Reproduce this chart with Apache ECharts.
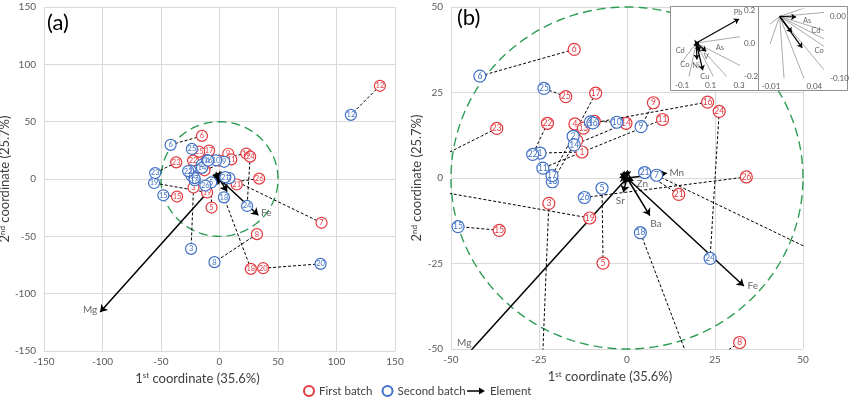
<!DOCTYPE html>
<html><head><meta charset="utf-8">
<script src="https://cdn.jsdelivr.net/npm/echarts@6/dist/echarts.min.js"></script>
<style>html,body{margin:0;padding:0;background:#fff}#c{width:850px;height:398px}</style>
</head><body><div id="c"></div>
<script>
// ---------- data ----------
const sampleIds = [1,2,3,4,5,6,7,8,9,10,11,12,13,14,15,16,17,18,19,20,21,22,23,24,25,26];
const firstX  = [-12.8,-14.3,-22.2,-14.8,-6.8,-15.0,87.2,32.0,7.5,-9.3,10.1,137.1,-12.4,-0.3,-36.3,22.9,-8.9,26.8,-10.6,37.3,14.7,-22.6,-37.0,26.2,-17.4,33.9];
const firstY  = [7.6,11.0,-7.4,15.8,-24.9,37.6,-38.2,-48.1,22.0,16.6,17.1,81.3,14.6,16.0,-15.3,22.2,24.8,-78.4,-11.7,-77.8,-4.8,16.0,14.5,19.5,23.8,0.3];
const secondX = [-24.7,-15.3,-24.3,-10.4,-7.1,-41.8,8.4,-4.3,4.0,-2.9,-23.9,112.3,-21.2,-15.0,-48.0,-9.7,-21.3,3.8,-55.9,86.4,5.0,-26.8,-55.0,23.6,-23.6,-12.1];
const secondY = [7.3,12.2,-60.9,16.4,-3.0,29.8,0.8,-72.5,15.0,16.3,2.9,55.9,-1.1,9.7,-14.2,16.1,0.7,-16.0,-3.5,-74.0,1.6,6.9,5.2,-23.5,26.2,-5.7];

const elementNames = ['Mg','Fe','Mn','Zn','Sr','Ba','Pb','V','Ni','Cu','As','Cd','Co'];
const elementX = [-102.0,33.2,11.3,1.8,-1.05,6.5,0.30,0.07,0.005,0.046,0.019,0.014,0.026];
const elementY = [-116.0,-31.6,1.4,-0.8,-4.2,-11.0,0.145,-0.05,-0.10,-0.165,-0.001,-0.026,-0.051];

const circleRadius = 50;
const ticksA = [-150,-100,-50,0,50,100,150];
const ticksB = [-50,-25,0,25,50];

// ---------- style ----------
const RED = '#e2393f', BLUE = '#4171c6', FONT = 'Lato', TXT = '#404040', TICK = '#595959';

const chart = echarts.init(document.getElementById('c'));

function circleRender(params, api) {
  const pts = [];
  for (let i = 0; i <= 240; i++) {
    const t = i / 240 * 2 * Math.PI;
    pts.push(api.coord([circleRadius * Math.cos(t), circleRadius * Math.sin(t)]));
  }
  return {type: 'polyline', shape: {points: pts},
    style: {stroke: '#2f9d55', lineWidth: 1.4, lineDash: [9, 5], fill: null}};
}
const pairData = () => sampleIds.map((id, i) => ({coords: [[firstX[i], firstY[i]], [secondX[i], secondY[i]]]}));
const ptData = (xs, ys) => sampleIds.map((id, i) => [xs[i], ys[i], id]);
const idx = n => elementNames.indexOf(n);
const arrowData = names => names.map(n => ({coords: [[0, 0], [elementX[idx(n)], elementY[idx(n)]]]}));
const labelData = cfg => cfg.map(c => {
  const i = idx(c.n);
  let p = [elementX[i], elementY[i]];
  if (c.clipY !== undefined) p = [elementX[i] * c.clipY / elementY[i], c.clipY];
  return {value: p, label: {formatter: c.n, offset: c.off}};
});

function panel(g, symSize, fs, labelCfg) {
  return [
    {type: 'custom', xAxisIndex: g, yAxisIndex: g, renderItem: circleRender, data: [[0, 0]], z: 1, silent: true},
    {type: 'lines', name: 'pairs', coordinateSystem: 'cartesian2d', xAxisIndex: g, yAxisIndex: g, clip: true,
      data: pairData(), symbol: 'none', lineStyle: {color: '#000', width: 1, type: [3, 2], opacity: 1}, z: 2, silent: true},
    {type: 'lines', name: 'Element', coordinateSystem: 'cartesian2d', xAxisIndex: g, yAxisIndex: g, clip: true,
      data: arrowData(elementNames), symbol: ['none', 'arrow'], symbolSize: 7,
      lineStyle: {color: '#000', width: 1.5, opacity: 1}, itemStyle: {color: '#000'}, z: 3, silent: true},
    {type: 'scatter', name: 'First batch', xAxisIndex: g, yAxisIndex: g, data: ptData(firstX, firstY),
      symbol: 'circle', symbolSize: symSize, itemStyle: {color: '#fff', borderColor: RED, borderWidth: 1.2, opacity: 1},
      label: {show: true, position: 'inside', formatter: p => p.value[2], color: RED, fontSize: fs, fontFamily: FONT}, z: 4, silent: true},
    {type: 'scatter', name: 'Second batch', xAxisIndex: g, yAxisIndex: g, data: ptData(secondX, secondY),
      symbol: 'circle', symbolSize: symSize, itemStyle: {color: '#fff', borderColor: BLUE, borderWidth: 1.2, opacity: 1},
      label: {show: true, position: 'inside', formatter: p => p.value[2], color: BLUE, fontSize: fs, fontFamily: FONT}, z: 5, silent: true},
    {type: 'scatter', name: 'elemLabels' + g, xAxisIndex: g, yAxisIndex: g, data: labelData(labelCfg), symbolSize: 0, clip: false,
      label: {show: true, position: 'inside', color: TXT, fontSize: 10, fontFamily: FONT}, z: 6, silent: true}
  ];
}

function inset(g, blackNames, labelCfg) {
  const grayNames = elementNames.filter(n => blackNames.indexOf(n) < 0);
  return [
    {type: 'lines', name: 'gray' + g, coordinateSystem: 'cartesian2d', xAxisIndex: g, yAxisIndex: g, clip: true,
      data: arrowData(grayNames), symbol: 'none', lineStyle: {color: '#aaaaaa', width: 1, opacity: 1}, z: 11, silent: true,
      markLine: {silent: true, symbol: 'none', label: {show: false}, lineStyle: {color: '#cfcfcf', type: 'solid', width: 1},
        data: [{xAxis: 0}, {yAxis: 0}]}},
    {type: 'lines', name: 'blk' + g, coordinateSystem: 'cartesian2d', xAxisIndex: g, yAxisIndex: g, clip: false,
      data: arrowData(blackNames), symbol: ['none', 'arrow'], symbolSize: 5,
      lineStyle: {color: '#000', width: 1.2, opacity: 1}, z: 12, silent: true},
    {type: 'scatter', name: 'ilab' + g, xAxisIndex: g, yAxisIndex: g, data: labelData(labelCfg), symbolSize: 0, clip: false,
      label: {show: true, position: 'inside', color: TXT, fontSize: 7.5, fontFamily: FONT}, z: 13, silent: true}
  ];
}

const baseAxis = {
  axisLine: {show: false, onZero: false}, axisTick: {show: false},
  splitLine: {show: true, lineStyle: {color: '#d9d9d9', width: 1}},
  axisLabel: {fontSize: 10, color: TICK, fontFamily: FONT, margin: 7},
  nameLocation: 'middle'
};
const richName = {
  n: {fontSize: 13, fontFamily: FONT, color: TXT, verticalAlign: 'bottom'},
  s: {fontSize: 8, fontFamily: FONT, color: TXT, verticalAlign: 'bottom', padding: [0, 0, 5, 0]}
};
const xName = '{n|1}{s|st}{n| coordinate (35.6%)}';
const yName = '{n|2}{s|nd}{n| coordinate (25.7%)}';
const insetAxis = (o) => Object.assign({
  axisLine: {show: false, onZero: false}, axisTick: {show: false}, splitLine: {show: false}, z: 11
}, o);
const legendText = {fontFamily: FONT, fontSize: 11.5, color: TXT};

const option = {
  animation: false,
  backgroundColor: '#fff',
  textStyle: {fontFamily: FONT},
  grid: [
    {left: 44, top: 7, width: 351, height: 344, outerBoundsMode: 'none'},
    {left: 451, top: 7, width: 352, height: 342, outerBoundsMode: 'none'},
    {left: 682, top: 10, width: 57, height: 66, outerBoundsMode: 'none'},
    {left: 771, top: 9, width: 52, height: 69, outerBoundsMode: 'none'}
  ],
  xAxis: [
    Object.assign({}, baseAxis, {gridIndex: 0, type: 'value', min: ticksA[0], max: ticksA[ticksA.length - 1], interval: 50,
      name: xName, nameGap: 20, nameTextStyle: {rich: richName, padding: [0, 44, 0, 0]}, axisLabel: Object.assign({}, baseAxis.axisLabel, {margin: 6})}),
    Object.assign({}, baseAxis, {gridIndex: 1, type: 'value', min: ticksB[0], max: ticksB[ticksB.length - 1], interval: 25,
      name: xName, nameGap: 21, nameTextStyle: {rich: richName, padding: [0, 34, 0, 0]}, axisLabel: Object.assign({}, baseAxis.axisLabel, {margin: 6})}),
    insetAxis({gridIndex: 2, type: 'value', min: -0.1, max: 0.3, interval: 0.2,
      axisLabel: {fontSize: 8, color: TICK, fontFamily: FONT, margin: 5, formatter: v => v.toFixed(1)}}),
    insetAxis({gridIndex: 3, type: 'value', min: -0.01, max: 0.05, interval: 0.05,
      axisLabel: {fontSize: 8, color: TICK, fontFamily: FONT, margin: 4, showMaxLabel: false, formatter: v => v.toFixed(2)}})
  ],
  yAxis: [
    Object.assign({}, baseAxis, {gridIndex: 0, type: 'value', min: ticksA[0], max: ticksA[ticksA.length - 1], interval: 50,
      name: yName, nameGap: 26, nameTextStyle: {rich: richName}, axisLabel: Object.assign({}, baseAxis.axisLabel, {margin: 8})}),
    Object.assign({}, baseAxis, {gridIndex: 1, type: 'value', min: ticksB[0], max: ticksB[ticksB.length - 1], interval: 25,
      name: yName, nameGap: 17, nameTextStyle: {rich: richName}, axisLabel: Object.assign({}, baseAxis.axisLabel, {margin: 8})}),
    insetAxis({gridIndex: 2, type: 'value', min: -0.2, max: 0.2, interval: 0.2, position: 'right',
      axisLabel: {fontSize: 8, color: TICK, fontFamily: FONT, margin: 5, formatter: v => v.toFixed(1)}}),
    insetAxis({gridIndex: 3, type: 'value', min: -0.1, max: 0.012, interval: 0.1, position: 'right',
      axisLabel: {fontSize: 8, color: TICK, fontFamily: FONT, margin: 7, showMaxLabel: false, formatter: v => v.toFixed(2)}})
  ],
  legend: [
    {
      left: 303, top: 385, padding: 0, itemWidth: 10, itemHeight: 10, itemGap: 9, selectedMode: false,
      textStyle: legendText,
      data: [{name: 'First batch', icon: 'circle'}, {name: 'Second batch', icon: 'circle'}]
    },
    {
      left: 467, top: 385, padding: 0, itemWidth: 18, itemHeight: 10, selectedMode: false,
      textStyle: legendText,
      data: [{name: 'Element', icon: 'path://M0,4.2L12,4.2L12,1.6L18,5L12,8.4L12,5.8L0,5.8Z',
        itemStyle: {color: '#000', borderWidth: 0}, lineStyle: {width: 0}}]
    }
  ],
  graphic: [
    {type: 'text', left: 47, top: 12, z: 30, style: {text: '(a)', fontSize: 22, fontFamily: FONT, fill: '#000'}},
    {type: 'text', left: 457, top: 7, z: 30, style: {text: '(b)', fontSize: 22, fontFamily: FONT, fill: '#000'}},
    {type: 'rect', left: 670, top: 6, z: 10, shape: {width: 88, height: 84}, style: {fill: '#fff', stroke: '#8f8f8f', lineWidth: 1}},
    {type: 'rect', left: 758, top: 6, z: 10, shape: {width: 89, height: 84}, style: {fill: '#fff', stroke: '#8f8f8f', lineWidth: 1}}
  ],
  series: [].concat(
    panel(0, 11, 7.5, [{n: 'Mg', off: [-10, -2]}, {n: 'Fe', off: [8, -2]}]),
    panel(1, 12, 8.5, [
      {n: 'Mn', off: [10, 0]}, {n: 'Zn', off: [9, 3]}, {n: 'Sr', off: [-3, 8]},
      {n: 'Ba', off: [6, 8]}, {n: 'Fe', off: [9, 0]}, {n: 'Mg', clipY: -50, off: [-8, -6]}
    ]),
    inset(2, ['Pb', 'V', 'Ni', 'Cu', 'As', 'Cd', 'Co'], [
      {n: 'Pb', off: [-1, -6]}, {n: 'V', off: [0, 5]}, {n: 'Ni', off: [-1, 6]}, {n: 'Cu', off: [2, 6]},
      {n: 'Cd', off: [-18, 3]}, {n: 'Co', off: [-15, 13]}, {n: 'As', off: [21, 4]}
    ]),
    inset(3, ['As', 'Cd', 'Co'], [
      {n: 'As', off: [11, 4]}, {n: 'Cd', off: [24, -2]}, {n: 'Co', off: [17, 3]}
    ])
  )
};
chart.setOption(option);
</script></body></html>
